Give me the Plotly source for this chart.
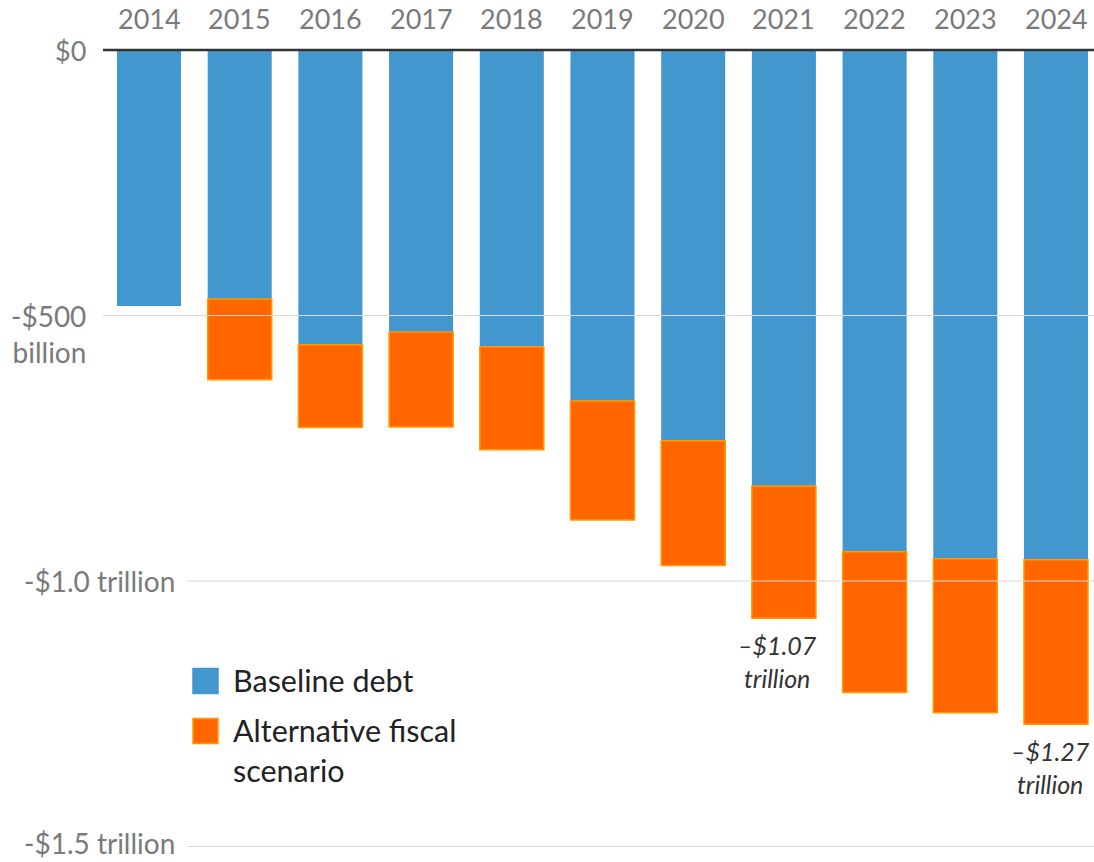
import plotly.graph_objects as go

years = ["2014", "2015", "2016", "2017", "2018", "2019", "2020", "2021", "2022", "2023", "2024"]
baseline = [-482, -469, -555, -531, -559, -661, -736, -821, -945, -958, -960]
alternative = [None, -621, -711, -710, -753, -885, -971, -1070, -1210, -1248, -1270]

tick_vals = [0, -500, -1000, -1500]
tick_text = ["$0", "-$500<br>billion", "-$1.0 trillion", "-$1.5 trillion"]

BLUE = "#4397cf"
ORANGE = "#ff6600"
ORANGE_EDGE = "#ff9a00"
FONT = "Lato"
W, H = 1094, 862

extra = [None if a is None else a - b for a, b in zip(alternative, baseline)]
xs = list(range(len(years)))

fig = go.Figure()
fig.add_trace(go.Bar(x=xs, y=baseline, name="Baseline debt", marker=dict(color=BLUE, line=dict(width=0)),
                     width=0.706))
fig.add_trace(go.Bar(x=xs, y=extra, name="Alternative fiscal scenario",
                     marker=dict(color=ORANGE, line=dict(color=ORANGE_EDGE, width=1.5)), width=0.706))

annotations = []
shapes = []
# year labels on top
for i, yr in enumerate(years):
    annotations.append(dict(x=i, y=0, xref="x", yref="y", text=yr, showarrow=False,
                            yanchor="bottom", yshift=13, font=dict(family=FONT, size=27, color="#7a7a7a")))

# y labels and gridlines
label_right = 88 / W
for v, t in zip(tick_vals, tick_text):
    if "<br>" in t:
        annotations.append(dict(x=label_right, y=v, xref="paper", yref="y", text=t, showarrow=False,
                                xanchor="right", yanchor="top", yshift=19, align="right",
                                font=dict(family=FONT, size=28, color="#7a7a7a")))
    else:
        annotations.append(dict(x=(177 / W) if "trillion" in t else label_right, y=v, xref="paper", yref="y",
                                text=t, showarrow=False, xanchor="right", yanchor="middle",
                                yshift=4 if v == -1500 else 0,
                                font=dict(family=FONT, size=28 if "trillion" in t else 27, color="#7a7a7a")))
    x0 = (187 / W) if "trillion" in t else (103 / W)
    if v == 0:
        shapes.append(dict(type="line", xref="paper", yref="y", x0=x0, x1=1, y0=v, y1=v,
                           line=dict(color="#333333", width=2.5), layer="above"))
    else:
        shapes.append(dict(type="line", xref="paper", yref="y", x0=x0, x1=1, y0=v, y1=v,
                           line=dict(color="#d9d9d9", width=1.2), layer="above"))

# value call-outs
for idx in (7, 10):
    val = alternative[idx]
    annotations.append(dict(x=idx, y=val, xref="x", yref="y",
                            text=f"–${abs(val)/1000:.2f}<br>trillion", showarrow=False,
                            yanchor="top", yshift=-10, xshift=-6, align="center",
                            font=dict(family=FONT, size=25, color="#333333", style="italic")))

# manual legend
leg = [(BLUE, None, "Baseline debt", 681), (ORANGE, ORANGE_EDGE, "Alternative fiscal<br>scenario", 731)]
for col, edge, txt, yc in leg:
    shapes.append(dict(type="rect", xref="paper", yref="paper",
                       x0=193 / W, x1=218 / W, y0=1 - (yc + 12.5) / H, y1=1 - (yc - 12.5) / H,
                       fillcolor=col, line=dict(color=edge if edge else col, width=1.5)))
    annotations.append(dict(x=231 / W, y=1 - (yc - 21) / H, xref="paper", yref="paper", text=txt,
                            showarrow=False, xanchor="left", yanchor="top", align="left",
                            font=dict(family=FONT, size=30.5, color="#222222")))

# axis ranges from pixel layout
x_left = -149 / 90.7
x_right = (W - 149) / 90.7
px_per = (581 - 50) / 1000.0
y_top = 50 / px_per
y_bot = -(H - 50) / px_per

fig.update_layout(
    width=W, height=H, barmode="relative", bargap=0.29,
    margin=dict(l=0, r=0, t=0, b=0),
    plot_bgcolor="white", paper_bgcolor="white",
    showlegend=False,
    xaxis=dict(range=[x_left, x_right], visible=False),
    yaxis=dict(range=[y_bot, y_top], visible=False, tickvals=tick_vals),
    annotations=annotations, shapes=shapes,
)

fig.write_html("out.html")
